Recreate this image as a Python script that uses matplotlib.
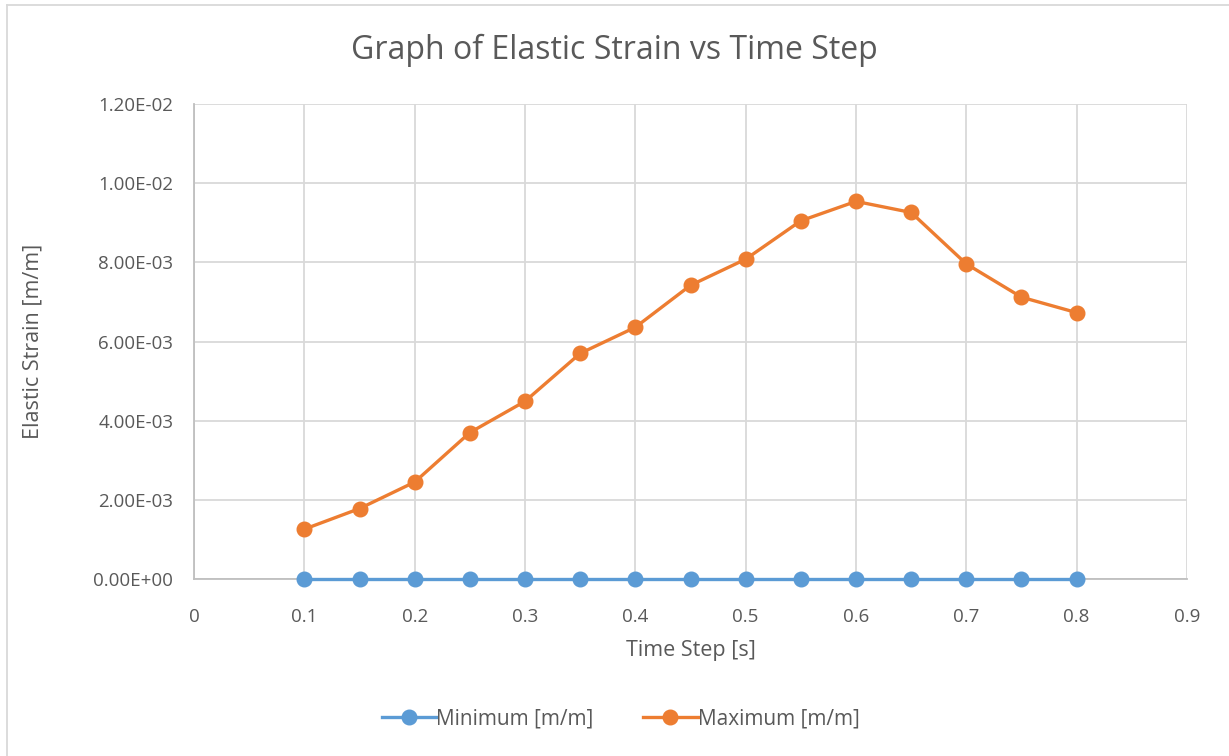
import numpy as np
import matplotlib.pyplot as plt
from matplotlib.lines import Line2D
from matplotlib.ticker import FuncFormatter

plt.rcParams['font.family'] = ['Open Sans', 'DejaVu Sans']

# time steps and elastic strain results
time_step = [0.1, 0.15, 0.2, 0.25, 0.3, 0.35, 0.4, 0.45, 0.5, 0.55, 0.6, 0.65, 0.7, 0.75, 0.8]
strain_min = [0.0] * 15
strain_max = [1.26e-3, 1.78e-3, 2.45e-3, 3.70e-3, 4.49e-3, 5.70e-3, 6.36e-3, 7.42e-3,
              8.08e-3, 9.05e-3, 9.54e-3, 9.26e-3, 7.96e-3, 7.12e-3, 6.73e-3]

x_ticks = [0, 0.1, 0.2, 0.3, 0.4, 0.5, 0.6, 0.7, 0.8, 0.9]
y_ticks = [0, 0.002, 0.004, 0.006, 0.008, 0.010, 0.012]

blue = '#5b9bd5'
orange = '#ed7d31'
txt = '#595959'

fig = plt.figure(figsize=(12.29, 7.56), dpi=100)
ax = fig.add_axes([0.1579, 0.2341, 0.8079, 0.6283])

ax.plot(time_step, strain_min, color=blue, lw=2.4, marker='o', ms=10.5,
        label='Minimum [m/m]', clip_on=False, zorder=4)
ax.plot(time_step, strain_max, color=orange, lw=2.4, marker='o', ms=10.5,
        label='Maximum [m/m]', clip_on=False, zorder=4)

ax.set_xlim(0, 0.9)
ax.set_ylim(0, 0.012)
ax.set_xticks(x_ticks)
ax.set_yticks(y_ticks)
ax.xaxis.set_major_formatter(FuncFormatter(lambda v, p: '0' if v == 0 else f'{v:g}'))
ax.yaxis.set_major_formatter(FuncFormatter(lambda v, p: '0.00E+00' if v == 0 else f'{v:.2E}'))

ax.grid(True, color='#d9d9d9', lw=1.3)
ax.set_axisbelow(True)
for s in ['top', 'right']:
    ax.spines[s].set_visible(False)
ax.spines['left'].set_color('#bfbfbf')
ax.spines['bottom'].set_color('#bfbfbf')
ax.spines['left'].set_linewidth(1.3)
ax.spines['bottom'].set_linewidth(1.3)
ax.tick_params(length=0, labelsize=13.5, colors=txt)
ax.tick_params(axis='x', pad=21)
ax.tick_params(axis='y', pad=15)

fig.text(0.5, 1 - 50 / 756, 'Graph of Elastic Strain vs Time Step', fontsize=23,
         color=txt, ha='center', va='center')
ax.set_xlabel('Time Step [s]', fontsize=15.5, color=txt)
ax.set_ylabel('Elastic Strain [m/m]', fontsize=15.5, color=txt)
ax.xaxis.set_label_coords(0.5, -0.128)
ax.yaxis.set_label_coords(-0.152, 0.5)

ax.legend(loc='center', bbox_to_anchor=(0.505, 1 - 719 / 756), bbox_transform=fig.transFigure,
          ncol=2, frameon=False, fontsize=15, labelcolor=txt, handlelength=2.6,
          handletextpad=0.0, columnspacing=2.4)

# chart area border
fig.add_artist(Line2D([7 / 1229, 7 / 1229], [0, 1 - 5 / 756], color='#d9d9d9', lw=1.3,
                      transform=fig.transFigure))
fig.add_artist(Line2D([7 / 1229, 1], [1 - 5 / 756, 1 - 5 / 756], color='#d9d9d9', lw=1.3,
                      transform=fig.transFigure))

fig.savefig('out.png', dpi=100)
